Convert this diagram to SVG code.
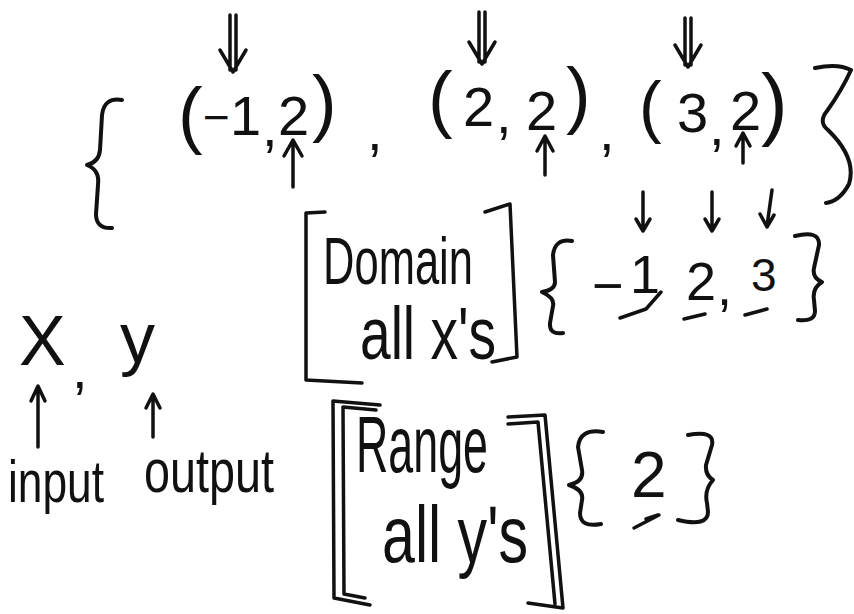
<svg xmlns="http://www.w3.org/2000/svg" width="854" height="614" viewBox="0 0 854 614">
<style>
  .ink { fill: none; stroke: #111; stroke-width: 3.5; stroke-linecap: round; stroke-linejoin: round; }
  .br { fill: none; stroke: #111; stroke-width: 4; stroke-linecap: round; stroke-linejoin: round; }
  .t { font-family: "Liberation Sans", "DejaVu Sans", sans-serif; fill: #111; }
  .p { font-size: 74px; }
</style>
<rect width="854" height="614" fill="#fff"/>

<!-- top set of ordered pairs -->
<g id="pairs">
  <path class="br" d="M122 100 Q104 97 102 115 L100 150 Q99 162 87 165 Q100 170 98 185 L96 214 Q96 229 112 228"/>
  <text class="t" font-size="56"><tspan class="p" x="178" y="140">(</tspan><tspan font-size="46" x="203" y="133">−</tspan><tspan x="230" y="135">1</tspan><tspan x="262" y="146">,</tspan><tspan x="278" y="135">2</tspan><tspan class="p" x="312" y="128">)</tspan></text>
  <text class="t" font-size="56" x="367" y="150">,</text>
  <text class="t" font-size="56"><tspan class="p" x="428" y="124">(</tspan><tspan x="463" y="126">2</tspan><tspan x="496" y="133">,</tspan><tspan x="526" y="130">2</tspan><tspan class="p" x="566" y="120">)</tspan></text>
  <text class="t" font-size="56" x="599" y="150">,</text>
  <text class="t" font-size="56"><tspan font-size="68" x="639" y="130">(</tspan><tspan x="677" y="132">3</tspan><tspan x="709" y="145">,</tspan><tspan x="730" y="130">2</tspan><tspan font-size="80" x="761" y="130">)</tspan></text>
  <path class="br" d="M815 68 Q838 63 851 70 Q842 90 827 111 Q818 122 828 130 Q857 158 849 184 Q840 201 826 203"/>
</g>

<g id="arrows">
  <!-- double down arrows above pairs -->
  <path class="ink" d="M230 15 L230 70 M236 15 L236 70 M220 50 L233 72 L246 50"/>
  <path class="ink" d="M479 12 L479 62 M485 12 L485 62 M469 42 L482 64 L495 42"/>
  <path class="ink" d="M685 18 L685 65 M691 18 L691 65 M675 45 L688 67 L701 45"/>
  <!-- up arrows under y-values -->
  <path class="ink" d="M293 187 L293 141 M284 156 L293 140 L302 156"/>
  <path class="ink" d="M545 175 L545 138 M537 151 L545 136 L553 151"/>
  <path class="ink" d="M743 163 L743 135 M736 146 L743 133 L750 146"/>
  <!-- down arrows to domain -->
  <path class="ink" d="M643 192 L643 230 M636 219 L643 231 L650 219"/>
  <path class="ink" d="M712 192 L712 230 M705 219 L712 231 L719 219"/>
  <path class="ink" d="M772 190 L767 226 M760 214 L767 227 L774 215"/>
  <!-- input / output arrows -->
  <path class="ink" d="M38 447 L38 387 M31 401 L38 386 L45 401"/>
  <path class="ink" d="M153 437 L153 395 M146 408 L153 394 L160 408"/>
</g>

<g id="domain">
  <path class="ink" d="M325 212 L306 213 L306 380 L362 383"/>
  <path class="ink" d="M485 212 L510 204 L517 357 L492 362"/>
  <text class="t" x="323" y="284" font-size="66" textLength="150" lengthAdjust="spacingAndGlyphs">Domain</text>
  <text class="t" x="360" y="359" font-size="74" textLength="136" lengthAdjust="spacingAndGlyphs">all x's</text>
</g>

<g id="domain-set">
  <path class="br" d="M572 241 Q555 238 553 255 L555 282 Q555 290 542 292 Q555 298 553 306 L550 323 Q549 335 563 333"/>
  <text class="t" font-size="54"><tspan x="592" y="304">−</tspan><tspan x="630" y="293">1</tspan><tspan x="686" y="300">2</tspan><tspan x="717" y="305">,</tspan><tspan font-size="46" x="751" y="291">3</tspan></text>
  <path class="ink" d="M620 318 L646 309 L661 292"/>
  <path class="ink" d="M684 319 L705 314"/>
  <path class="ink" d="M745 315 L767 309"/>
  <path class="br" d="M795 236 Q820 230 819 245 L814 268 Q812 278 822 282 Q812 288 814 300 L815 311 Q815 322 798 320"/>
</g>

<g id="xy">
  <text class="t" font-size="70"><tspan x="19" y="365">X</tspan><tspan font-size="56" x="72" y="388">,</tspan><tspan x="120" y="362">y</tspan></text>
  <text class="t" x="8" y="502" font-size="60" textLength="96" lengthAdjust="spacingAndGlyphs">input</text>
  <text class="t" x="144" y="492" font-size="62" textLength="130" lengthAdjust="spacingAndGlyphs">output</text>
</g>

<g id="range">
  <path class="ink" d="M380 405 L333 401 L334 598 L370 605"/>
  <path class="ink" d="M376 410 L343 407 L344 594 L365 598"/>
  <path class="ink" d="M508 417 L545 415 L563 608 L528 603"/>
  <path class="ink" d="M508 424 L538 422 L555 604"/>
  <text class="t" x="356" y="472" font-size="80" textLength="132" lengthAdjust="spacingAndGlyphs">Range</text>
  <text class="t" x="382" y="562" font-size="80" textLength="146" lengthAdjust="spacingAndGlyphs">all y's</text>
</g>

<g id="range-set">
  <path class="br" d="M603 432 Q580 428 578 447 L582 470 Q584 482 569 485 Q584 490 582 500 L580 513 Q580 528 601 524"/>
  <text class="t" x="631" y="497" font-size="64">2</text>
  <path class="ink" d="M634 528 L659 515 M646 519 L658 515"/>
  <path class="br" d="M688 435 Q715 430 712 445 L706 465 Q705 475 713 480 Q704 490 707 503 L708 512 Q708 527 678 520"/>
</g>
</svg>
